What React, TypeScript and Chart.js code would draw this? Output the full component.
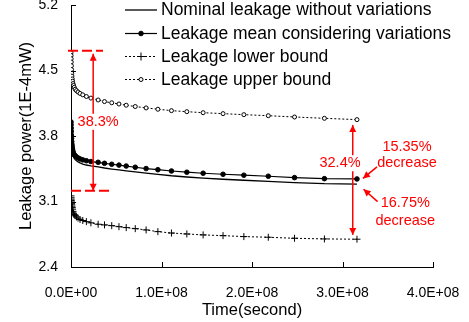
import React, { useEffect, useRef } from 'react';
import { Chart, registerables } from 'chart.js';
Chart.register(...registerables);

// ---- data (time in seconds, leakage in 1E-4 mW) ----
const timeSec = [
  0, 1e5, 2e5, 3e5, 4.5e5, 6e5, 8e5, 1.05e6, 1.35e6, 1.7e6, 2.2e6, 2.8e6, 3.6e6, 4.6e6, 6e6, 7.8e6,
  1e7, 1.3e7, 1.7e7, 2.2e7, 3.0e7, 3.7e7, 4.5e7, 5.3e7, 6.1e7, 7.1e7, 8.3e7, 9.6e7, 1.11e8, 1.28e8,
  1.46e8, 1.68e8, 1.91e8, 2.18e8, 2.47e8, 2.8e8, 3.16e8,
];
const nominal = [
  3.93, 3.89, 3.85, 3.81, 3.77, 3.735, 3.70, 3.67, 3.645, 3.62, 3.597, 3.577, 3.56, 3.547, 3.535, 3.523,
  3.512, 3.50, 3.49, 3.48, 3.47, 3.458, 3.447, 3.437, 3.428, 3.416, 3.403, 3.39, 3.375, 3.362,
  3.35, 3.338, 3.327, 3.315, 3.302, 3.29, 3.285,
];
const meanVar = [
  3.95, 3.92, 3.885, 3.85, 3.81, 3.775, 3.74, 3.71, 3.685, 3.66, 3.635, 3.615, 3.60, 3.588, 3.577, 3.565,
  3.555, 3.545, 3.536, 3.527, 3.519, 3.508, 3.498, 3.489, 3.479, 3.466, 3.452, 3.44, 3.426, 3.413,
  3.402, 3.391, 3.381, 3.37, 3.355, 3.344, 3.341,
];
const lowerBound = [
  3.16, 3.14, 3.125, 3.11, 3.095, 3.08, 3.065, 3.05, 3.035, 3.018, 2.995, 2.975, 2.96, 2.948, 2.935, 2.922,
  2.908, 2.897, 2.885, 2.872, 2.857, 2.85, 2.842, 2.831, 2.821, 2.81, 2.796, 2.778, 2.763, 2.753,
  2.743, 2.735, 2.725, 2.718, 2.707, 2.70, 2.697,
];
const upperBound = [
  4.69, 4.66, 4.625, 4.59, 4.55, 4.51, 4.47, 4.44, 4.41, 4.385, 4.36, 4.34, 4.32, 4.30, 4.285, 4.27,
  4.255, 4.24, 4.222, 4.205, 4.185, 4.168, 4.155, 4.142, 4.129, 4.115, 4.10, 4.086, 4.071, 4.06,
  4.049, 4.039, 4.028, 4.017, 4.003, 3.989, 3.975,
];
const seriesNames = [
  'Nominal leakage without variations',
  'Leakage mean considering variations',
  'Leakage lower bound',
  'Leakage upper bound',
];
const xTickValues = [0, 1e8, 2e8, 3e8, 4e8];
const yTickValues = [2.4, 3.1, 3.8, 4.5, 5.2];
const xTitle = 'Time(second)';
const yTitle = 'Leakage power(1E-4mW)';
// annotation values
const leftRange = [4.71, 3.215]; // dashed levels
const leftArrowT = 2.45e7;
const rightRange = [3.918, 2.743];
const rightArrowT = 3.113e8;
const rangeLabels = ['38.3%', '32.4%'];
const decreaseLabels = ['15.35%', '16.75%'];
const decreaseWord = 'decrease';

const FONT = "'Liberation Sans', Arial, sans-serif";
const RED = '#ff0000';

function fmtExp(v: number): string {
  const [m, e] = v.toExponential(1).split('e');
  const sign = e[0] === '-' ? '-' : '+';
  const d = e.replace(/[+-]/, '').padStart(2, '0');
  return `${m}E${sign}${d}`;
}

function arrowHead(ctx: CanvasRenderingContext2D, fx: number, fy: number, tx: number, ty: number, len = 7, hw = 3.5) {
  const a = Math.atan2(ty - fy, tx - fx);
  ctx.beginPath();
  ctx.moveTo(tx, ty);
  ctx.lineTo(tx - len * Math.cos(a) + hw * Math.sin(a), ty - len * Math.sin(a) - hw * Math.cos(a));
  ctx.lineTo(tx - len * Math.cos(a) - hw * Math.sin(a), ty - len * Math.sin(a) + hw * Math.cos(a));
  ctx.closePath();
  ctx.fill();
}

function arrow(ctx: CanvasRenderingContext2D, fx: number, fy: number, tx: number, ty: number, both = false) {
  ctx.beginPath();
  ctx.moveTo(fx, fy);
  ctx.lineTo(tx, ty);
  ctx.stroke();
  arrowHead(ctx, fx, fy, tx, ty);
  if (both) arrowHead(ctx, tx, ty, fx, fy);
}

function labelBox(ctx: CanvasRenderingContext2D, text: string, x: number, y: number, bg: boolean) {
  const w = ctx.measureText(text).width;
  if (bg) {
    ctx.save();
    ctx.fillStyle = '#fff';
    ctx.fillRect(x - w / 2 - 1, y - 8, w + 2, 16);
    ctx.restore();
  }
  ctx.fillText(text, x, y);
}

const overlayPlugin = {
  id: 'overlay',
  afterDraw(chart: any) {
    const { ctx, chartArea } = chart;
    const xs = chart.scales.x;
    const ys = chart.scales.y;
    ctx.save();
    // inside tick marks
    ctx.strokeStyle = '#000';
    ctx.lineWidth = 1;
    ctx.beginPath();
    xTickValues.forEach((v) => {
      const px = Math.round(xs.getPixelForValue(v)) + 0.5;
      ctx.moveTo(px, chartArea.bottom);
      ctx.lineTo(px, chartArea.bottom - 5);
    });
    yTickValues.forEach((v) => {
      const py = Math.round(ys.getPixelForValue(v)) + 0.5;
      ctx.moveTo(chartArea.left, py);
      ctx.lineTo(chartArea.left + 5, py);
    });
    ctx.stroke();

    // legend
    const ds = chart.data.datasets;
    const rowY = [10, 33.5, 56.5, 79.5];
    const lx0 = 125, lx1 = 157;
    ctx.font = `17.5px ${FONT}`;
    ctx.textBaseline = 'middle';
    ctx.textAlign = 'left';
    ds.forEach((d: any, i: number) => {
      const y = rowY[i];
      ctx.save();
      ctx.strokeStyle = d.borderColor;
      ctx.lineWidth = d.borderWidth;
      ctx.setLineDash(d.borderDash || []);
      ctx.beginPath();
      ctx.moveTo(lx0, y);
      ctx.lineTo(lx1, y);
      ctx.stroke();
      ctx.restore();
      const mx = (lx0 + lx1) / 2;
      if (d.pointRadius > 0) {
        ctx.save();
        ctx.lineWidth = 1;
        ctx.strokeStyle = '#000';
        ctx.fillStyle = d.pointBackgroundColor;
        if (d.pointStyle === 'cross') {
          ctx.beginPath();
          ctx.moveTo(mx - 4, y); ctx.lineTo(mx + 4, y);
          ctx.moveTo(mx, y - 4); ctx.lineTo(mx, y + 4);
          ctx.stroke();
        } else {
          ctx.beginPath();
          ctx.arc(mx, y, d.pointRadius, 0, Math.PI * 2);
          ctx.fill();
          ctx.stroke();
        }
        ctx.restore();
      }
      ctx.fillStyle = '#000';
      ctx.fillText(seriesNames[i], 161, y + 0.5);
    });

    // annotations
    ctx.strokeStyle = RED;
    ctx.fillStyle = RED;
    const x0 = chartArea.left;
    // dashed levels on the left
    ctx.save();
    ctx.lineWidth = 2;
    ctx.setLineDash([10, 4]);
    const yTop = ys.getPixelForValue(leftRange[0]);
    const yBot = ys.getPixelForValue(leftRange[1]);
    ctx.beginPath();
    ctx.moveTo(x0 - 3, yTop); ctx.lineTo(x0 + 32, yTop);
    ctx.moveTo(x0, yBot); ctx.lineTo(x0 + 39, yBot);
    ctx.stroke();
    ctx.restore();
    ctx.lineWidth = 1.5;
    const lax = xs.getPixelForValue(leftArrowT);
    arrow(ctx, lax, yTop + 3, lax, yBot, true);
    const rax = xs.getPixelForValue(rightArrowT);
    const rTop = ys.getPixelForValue(rightRange[0]);
    const rBot = ys.getPixelForValue(rightRange[1]);
    arrow(ctx, rax, rTop, rax, rBot, true);

    const lastT = xs.getPixelForValue(timeSec[timeSec.length - 1]);
    const meanY = ys.getPixelForValue(meanVar[meanVar.length - 1]);
    const nomY = ys.getPixelForValue(nominal[nominal.length - 1]);
    const tipA = [lastT + 6, meanY - 0.5];
    const tipB = [lastT + 6.6, nomY + 5];
    arrow(ctx, tipA[0] + 14, tipA[1] - 11.6, tipA[0], tipA[1]);
    arrow(ctx, tipB[0] + 14, tipB[1] + 12.4, tipB[0], tipB[1]);

    ctx.font = `14.5px ${FONT}`;
    ctx.textAlign = 'center';
    ctx.textBaseline = 'middle';
    labelBox(ctx, rangeLabels[0], lax + 5, (yTop + yBot) / 2 + 1, true);
    labelBox(ctx, rangeLabels[1], rax - 12.7, ys.getPixelForValue(3.509), true);
    labelBox(ctx, decreaseLabels[0], tipA[0] + 44, tipA[1] - 31.6, false);
    labelBox(ctx, decreaseWord, tipA[0] + 44, tipA[1] - 15, false);
    labelBox(ctx, decreaseLabels[1], tipB[0] + 41.7, tipB[1] + 14, false);
    labelBox(ctx, decreaseWord, tipB[0] + 41.7, tipB[1] + 31.4, false);
    ctx.restore();
  },
};

export default function App() {
  const ref = useRef<HTMLCanvasElement | null>(null);
  useEffect(() => {
    document.body.style.margin = '0';
    const pts = (ys: number[]) => timeSec.map((t, i) => ({ x: t, y: ys[i] }));
    const chart = new Chart(ref.current as HTMLCanvasElement, {
      type: 'line',
      data: {
        datasets: [
          {
            label: seriesNames[0], data: pts(nominal), borderColor: '#000', borderWidth: 1.3,
            pointRadius: 0, pointBackgroundColor: '#000', fill: false, tension: 0,
          },
          {
            label: seriesNames[1], data: pts(meanVar), borderColor: '#000', borderWidth: 1.2,
            pointRadius: 2.3, pointStyle: 'circle', pointBackgroundColor: '#000', pointBorderColor: '#000',
            pointBorderWidth: 1, fill: false, tension: 0,
          },
          {
            label: seriesNames[2], data: pts(lowerBound), borderColor: '#000', borderWidth: 1, borderDash: [2, 2],
            pointRadius: 3.5, pointStyle: 'cross', pointBackgroundColor: '#000', pointBorderColor: '#000',
            pointBorderWidth: 1, fill: false, tension: 0,
          },
          {
            label: seriesNames[3], data: pts(upperBound), borderColor: '#000', borderWidth: 1, borderDash: [2, 2],
            pointRadius: 2, pointStyle: 'circle', pointBackgroundColor: '#fff', pointBorderColor: '#000',
            pointBorderWidth: 1, fill: false, tension: 0,
          },
        ],
      },
      options: {
        animation: false,
        responsive: false,
        devicePixelRatio: 1,
        layout: { padding: { top: 5, right: 36, left: 0, bottom: 0 } },
        plugins: { legend: { display: false }, tooltip: { enabled: false } },
        scales: {
          x: {
            type: 'linear', min: 0, max: 4e8,
            afterBuildTicks: (s: any) => { s.ticks = xTickValues.map((v) => ({ value: v })); },
            afterFit: (s: any) => { s.height = 55; s.paddingLeft = 0; s.paddingRight = 0; },
            grid: { display: true, drawOnChartArea: false, drawTicks: false },
            border: { display: true, color: '#000', width: 1 },
            ticks: {
              color: '#000', font: { family: FONT, size: 14 }, padding: 17.5, maxRotation: 0,
              callback: (v: any) => fmtExp(Number(v)),
            },
            title: { display: true, text: xTitle, color: '#000', font: { family: FONT, size: 16.5 }, padding: { top: 0, bottom: 2 } },
          },
          y: {
            type: 'linear', min: 2.4, max: 5.2,
            afterBuildTicks: (s: any) => { s.ticks = yTickValues.map((v) => ({ value: v })); },
            afterFit: (s: any) => { s.width = 71; s.paddingTop = 0; s.paddingBottom = 0; },
            grid: { display: true, drawOnChartArea: false, drawTicks: false },
            border: { display: true, color: '#000', width: 1 },
            ticks: {
              color: '#000', font: { family: FONT, size: 14 }, padding: 13,
              callback: (v: any) => Number(v).toFixed(1),
            },
            title: { display: true, text: yTitle, color: '#000', font: { family: FONT, size: 16.5 }, padding: { top: 17, bottom: 0 } },
          },
        },
      },
      plugins: [overlayPlugin],
    } as any);
    return () => chart.destroy();
  }, []);
  return (
    <div style={{ width: 469, height: 322 }}>
      <canvas ref={ref} width={469} height={322} style={{ width: 469, height: 322, display: 'block' }} />
    </div>
  );
}
